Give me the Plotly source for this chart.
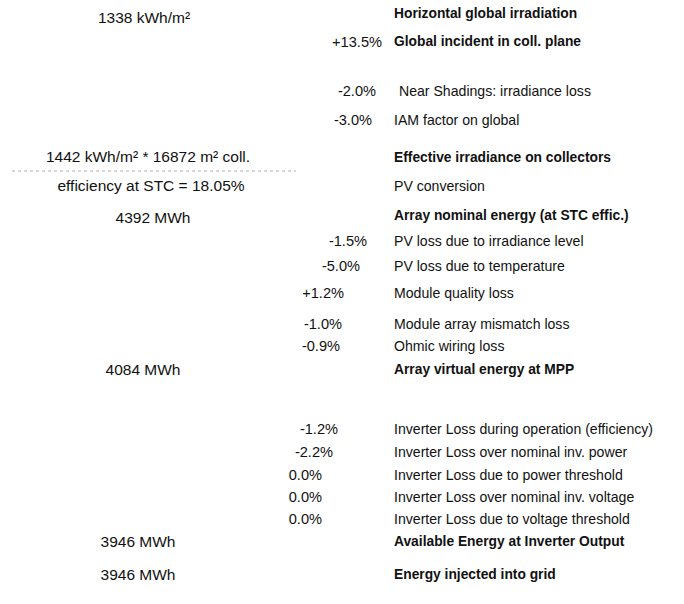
import plotly.graph_objects as go

# ---- data ----
step_labels = [
    "Horizontal global irradiation", "Global incident in coll. plane",
    "Near Shadings: irradiance loss", "IAM factor on global",
    "Effective irradiance on collectors", "PV conversion",
    "Array nominal energy (at STC effic.)", "PV loss due to irradiance level",
    "PV loss due to temperature", "Module quality loss",
    "Module array mismatch loss", "Ohmic wiring loss",
    "Array virtual energy at MPP",
    "Inverter Loss during operation (efficiency)",
    "Inverter Loss over nominal inv. power",
    "Inverter Loss due to power threshold",
    "Inverter Loss over nominal inv. voltage",
    "Inverter Loss due to voltage threshold",
    "Available Energy at Inverter Output", "Energy injected into grid",
]
step_is_total = [1, 1, 0, 0, 1, 0, 1, 0, 0, 0, 0, 0, 1, 0, 0, 0, 0, 0, 1, 1]

loss_rows = [1, 2, 3, 7, 8, 9, 10, 11, 13, 14, 15, 16, 17]
loss_pct = [13.5, -2.0, -3.0, -1.5, -5.0, 1.2, -1.0, -0.9, -1.2, -2.2, 0.0, 0.0, 0.0]

horiz_irr = 1338          # kWh/m2
eff_irr = 1442            # kWh/m2
coll_area = 16872         # m2
stc_eff = 18.05           # %
energy_rows = [6, 12, 18, 19]
energy_mwh = [4392, 4084, 3946, 3946]

# ---- layout helpers (positions only) ----
row_y = [15, 43, 92, 121, 159, 187, 217, 242, 267, 294, 325, 347, 371,
         430, 453, 476, 498, 520, 543, 576]
label_x = [394] * 20
label_x[2] = 399
pct_right_x = [382, 376, 372, 367, 360, 344, 342, 340, 338, 333, 322, 322, 322]

FONT = "Liberation Sans, Arial, sans-serif"
COL = "#111111"
FS_BOLD = 13.8
FS_NORMAL = 14.1
FS_PCT = 14.6
FS_LEFT = 15.5

fig = go.Figure()

# right-hand labels: totals (bold) and loss steps (regular)
for is_total, fs in ((1, FS_BOLD), (0, FS_NORMAL)):
    idx = [i for i, b in enumerate(step_is_total) if b == is_total]
    fig.add_trace(go.Scatter(
        x=[label_x[i] for i in idx], y=[row_y[i] for i in idx], mode="text",
        text=[f"<b>{step_labels[i]}</b>" if is_total else step_labels[i]
              for i in idx],
        textposition="middle right",
        textfont=dict(family=FONT, size=fs, color=COL),
        hoverinfo="skip", showlegend=False))

# percentages
def fmt(v):
    return "0.0%" if v == 0 else f"{v:+.1f}%"

fig.add_trace(go.Scatter(
    x=pct_right_x, y=[row_y[r] for r in loss_rows], mode="text",
    text=[fmt(v) for v in loss_pct],
    textposition="middle left",
    textfont=dict(family=FONT, size=FS_PCT, color=COL),
    hoverinfo="skip", showlegend=False))

# left-hand values
left_text = [f"{horiz_irr} kWh/m²",
             f"{eff_irr} kWh/m² * {coll_area} m² coll.",
             f"efficiency at STC = {stc_eff:.2f}%"]
left_text += [f"{e} MWh" for e in energy_mwh]
left_y = [19, row_y[4] - 1, row_y[5], row_y[6] + 2,
          row_y[12], row_y[18], row_y[19]]
left_x = [144, 148, 151, 153, 143, 138, 138]

fig.add_trace(go.Scatter(
    x=left_x, y=left_y, mode="text", text=left_text,
    textposition="middle center",
    textfont=dict(family=FONT, size=FS_LEFT, color=COL),
    hoverinfo="skip", showlegend=False))

# faint separator line under the effective irradiance value
fig.add_shape(type="line", x0=12, x1=296, y0=171, y1=171,
              line=dict(color="#b0b0b0", width=1, dash="dot"))

fig.update_layout(
    width=684, height=604,
    margin=dict(l=0, r=0, t=0, b=0),
    paper_bgcolor="white", plot_bgcolor="white",
    xaxis=dict(range=[0, 684], visible=False, fixedrange=True),
    yaxis=dict(range=[604, 0], visible=False, fixedrange=True),
)

fig.write_html(
    "out.html",
    config={"displayModeBar": False},
    post_script="document.body.style.margin='0px';"
                "document.body.style.overflow='hidden';",
)
